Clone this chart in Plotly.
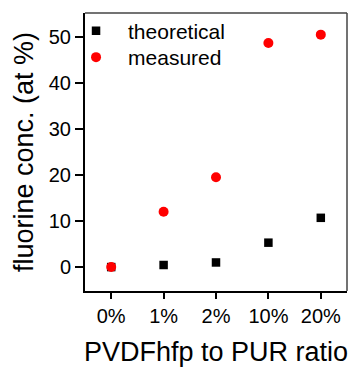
import plotly.graph_objects as go

categories = ["0%", "1%", "2%", "10%", "20%"]
theoretical = [0.0, 0.45, 1.0, 5.3, 10.7]
measured = [0.0, 12.0, 19.5, 48.7, 50.5]
y_ticks = [0, 10, 20, 30, 40, 50]

FONT = "Liberation Sans, Arial, sans-serif"

fig = go.Figure()
fig.add_trace(go.Scatter(x=categories, y=theoretical, mode="markers", name="theoretical",
                         legend="legend",
                         marker=dict(symbol="square", size=8.5, color="black")))
fig.add_trace(go.Scatter(x=categories, y=measured, mode="markers", name="measured",
                         legend="legend2",
                         marker=dict(symbol="circle", size=10, color="#ff0000")))

leg_common = dict(x=-0.08, xanchor="left", yanchor="middle", bgcolor="rgba(0,0,0,0)",
                  font=dict(size=21, family=FONT), itemwidth=54)

fig.update_layout(
    width=351, height=367,
    margin=dict(l=85, r=4, t=13, b=76),
    plot_bgcolor="white", paper_bgcolor="white",
    font=dict(family=FONT, color="black"),
    showlegend=True,
    legend=dict(y=0.935, **leg_common),
    legend2=dict(y=0.840, **leg_common),
    xaxis=dict(type="category", range=[-0.5, 4.5], showgrid=False, zeroline=False,
               showline=True, linecolor="black", linewidth=2, mirror=False,
               ticks="outside", ticklen=6, tickwidth=1.5, tickcolor="black",
               tickfont=dict(size=20), automargin=False,
               title=dict(text="PVDFhfp to PUR ratio", font=dict(size=27), standoff=18)),
    yaxis=dict(range=[-5.2, 55.2], tickvals=y_ticks, showgrid=False, zeroline=False,
               showline=True, linecolor="black", linewidth=2, mirror=False,
               ticks="outside", ticklen=8, tickwidth=1.5, tickcolor="black",
               tickfont=dict(size=20), automargin=False,
               title=dict(text="fluorine conc. (at %)", font=dict(size=27), standoff=7)),
    shapes=[
        dict(type="line", xref="paper", yref="paper", x0=0, x1=1, y0=1, y1=1,
             line=dict(color="#444444", width=1.5)),
        dict(type="line", xref="paper", yref="paper", x0=1, x1=1, y0=0, y1=1,
             line=dict(color="#444444", width=1.5)),
    ],
)

fig.write_html("out.html", config={"displayModeBar": False},
               post_script="document.body.style.margin='0px';")
